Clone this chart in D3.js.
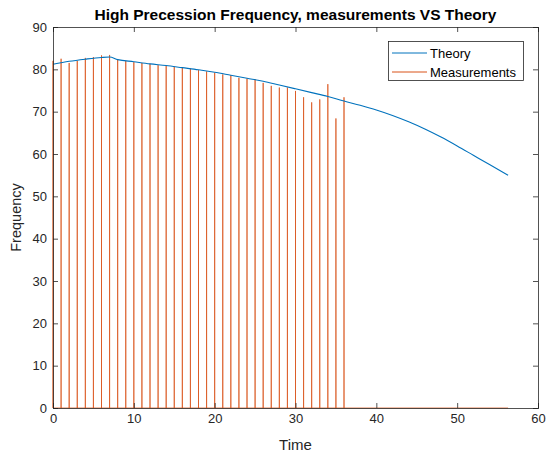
<!DOCTYPE html>
<html><head><meta charset="utf-8">
<script src="https://cdn.jsdelivr.net/npm/d3@7"></script>
<style>
body{margin:0;background:#fff;}
text{font-family:"Liberation Sans",Arial,Helvetica,sans-serif;}
</style></head>
<body>
<svg id="c" width="546" height="452"></svg>
<script>
const titleText = "High Precession Frequency, measurements VS Theory";
const xLabel = "Time";
const yLabel = "Frequency";
const xTicks = [0, 10, 20, 30, 40, 50, 60];
const yTicks = [0, 10, 20, 30, 40, 50, 60, 70, 80, 90];
const seriesNames = ["Theory", "Measurements"];

const theoryTime = [0, 2, 4, 6, 7, 8, 10, 12, 14, 16, 18, 20, 22, 24, 26, 28, 30, 32, 34, 36, 38, 40, 42, 44, 46, 48, 50, 52, 54, 56.3];
const theoryFreq = [81.2, 81.9, 82.4, 82.8, 82.9, 82.3, 81.8, 81.3, 80.9, 80.4, 79.9, 79.3, 78.6, 77.9, 77.2, 76.3, 75.4, 74.5, 73.6, 72.5, 71.5, 70.4, 69.1, 67.6, 65.9, 64.0, 61.9, 59.7, 57.5, 55.0];

const measTime = [0,1,2,3,4,5,6,7,8,9,10,11,12,13,14,15,16,17,18,19,20,21,22,23,24,25,26,27,28,29,30,31,32,33,34,35,36];
const measFreq = [82.0, 82.5, 81.5, 82.0, 82.7, 82.9, 83.3, 83.4, 82.4, 82.0, 81.7, 81.5, 81.3, 81.0, 80.8, 80.6, 80.4, 80.2, 79.8, 79.5, 79.2, 78.8, 78.6, 78.0, 77.8, 77.7, 76.8, 76.1, 75.7, 75.7, 74.9, 73.4, 72.2, 72.9, 76.5, 68.4, 73.4];
const measEndTime = 56.3;

const L = 53, R = 538, T = 27, B = 408;
const svg = d3.select("#c");
const x = d3.scaleLinear().domain([0, 60]).range([L, R]);
const y = d3.scaleLinear().domain([0, 90]).range([B, T]);
const axisColor = "#262626";

// Measurements polyline: spikes from zero
const measPts = [];
measTime.forEach((t, i) => { measPts.push([t, 0], [t, measFreq[i]], [t, 0]); });
measPts.push([measEndTime, 0]);
const line = d3.line().x(d => x(d[0])).y(d => y(d[1]));

svg.append("path").datum(measPts).attr("d", line)
  .attr("fill", "none").attr("stroke", "#D95319").attr("stroke-width", 1).attr("stroke-opacity", 0.75);
svg.append("path").datum(theoryTime.map((t, i) => [t, theoryFreq[i]])).attr("d", line.curve(d3.curveMonotoneX))
  .attr("fill", "none").attr("stroke", "#0072BD").attr("stroke-width", 1.1);

// axes
const gx = svg.append("g").attr("transform", `translate(0,${B})`)
  .call(d3.axisBottom(x).tickValues(xTicks).tickSize(-5).tickPadding(6).tickFormat(d3.format("d")));
const gxt = svg.append("g").attr("transform", `translate(0,${T})`)
  .call(d3.axisTop(x).tickValues(xTicks).tickSize(-5).tickFormat(""));
const gy = svg.append("g").attr("transform", `translate(${L},0)`)
  .call(d3.axisLeft(y).tickValues(yTicks).tickSize(-5).tickPadding(6).tickFormat(d3.format("d")));
const gyr = svg.append("g").attr("transform", `translate(${R},0)`)
  .call(d3.axisRight(y).tickValues(yTicks).tickSize(-5).tickFormat(""));
[gx, gxt, gy, gyr].forEach(g => {
  g.select(".domain").attr("stroke", axisColor).attr("stroke-width", 0.8);
  g.selectAll(".tick line").attr("stroke", axisColor).attr("stroke-width", 0.8);
  g.selectAll(".tick text").attr("fill", axisColor).style("font-size", "13px")
    .style("font-family", '"Liberation Sans",Arial,sans-serif');
});

// labels
svg.append("text").attr("x", (L + R) / 2).attr("y", 20).attr("text-anchor", "middle")
  .style("font-size", "15.5px").style("font-weight", "bold").attr("fill", "#000").text(titleText);
svg.append("text").attr("x", (L + R) / 2).attr("y", 450).attr("text-anchor", "middle")
  .style("font-size", "15px").attr("fill", axisColor).text(xLabel);
svg.append("text").attr("transform", `translate(21,${(T + B) / 2}) rotate(-90)`).attr("text-anchor", "middle")
  .style("font-size", "14.5px").attr("fill", axisColor).text(yLabel);

// legend
const lg = svg.append("g");
lg.append("rect").attr("x", 388.5).attr("y", 41.5).attr("width", 135).attr("height", 39)
  .attr("fill", "#fff").attr("stroke", axisColor).attr("stroke-width", 0.8);
const legColors = ["#0072BD", "#D95319"];
seriesNames.forEach((n, i) => {
  const yy = 53 + i * 19;
  lg.append("line").attr("x1", 392).attr("x2", 427).attr("y1", yy).attr("y2", yy)
    .attr("stroke", legColors[i]).attr("stroke-width", 1);
  lg.append("text").attr("x", 430).attr("y", yy + 4.5).style("font-size", "13px").attr("fill", "#000").text(n);
});
</script>
</body></html>
